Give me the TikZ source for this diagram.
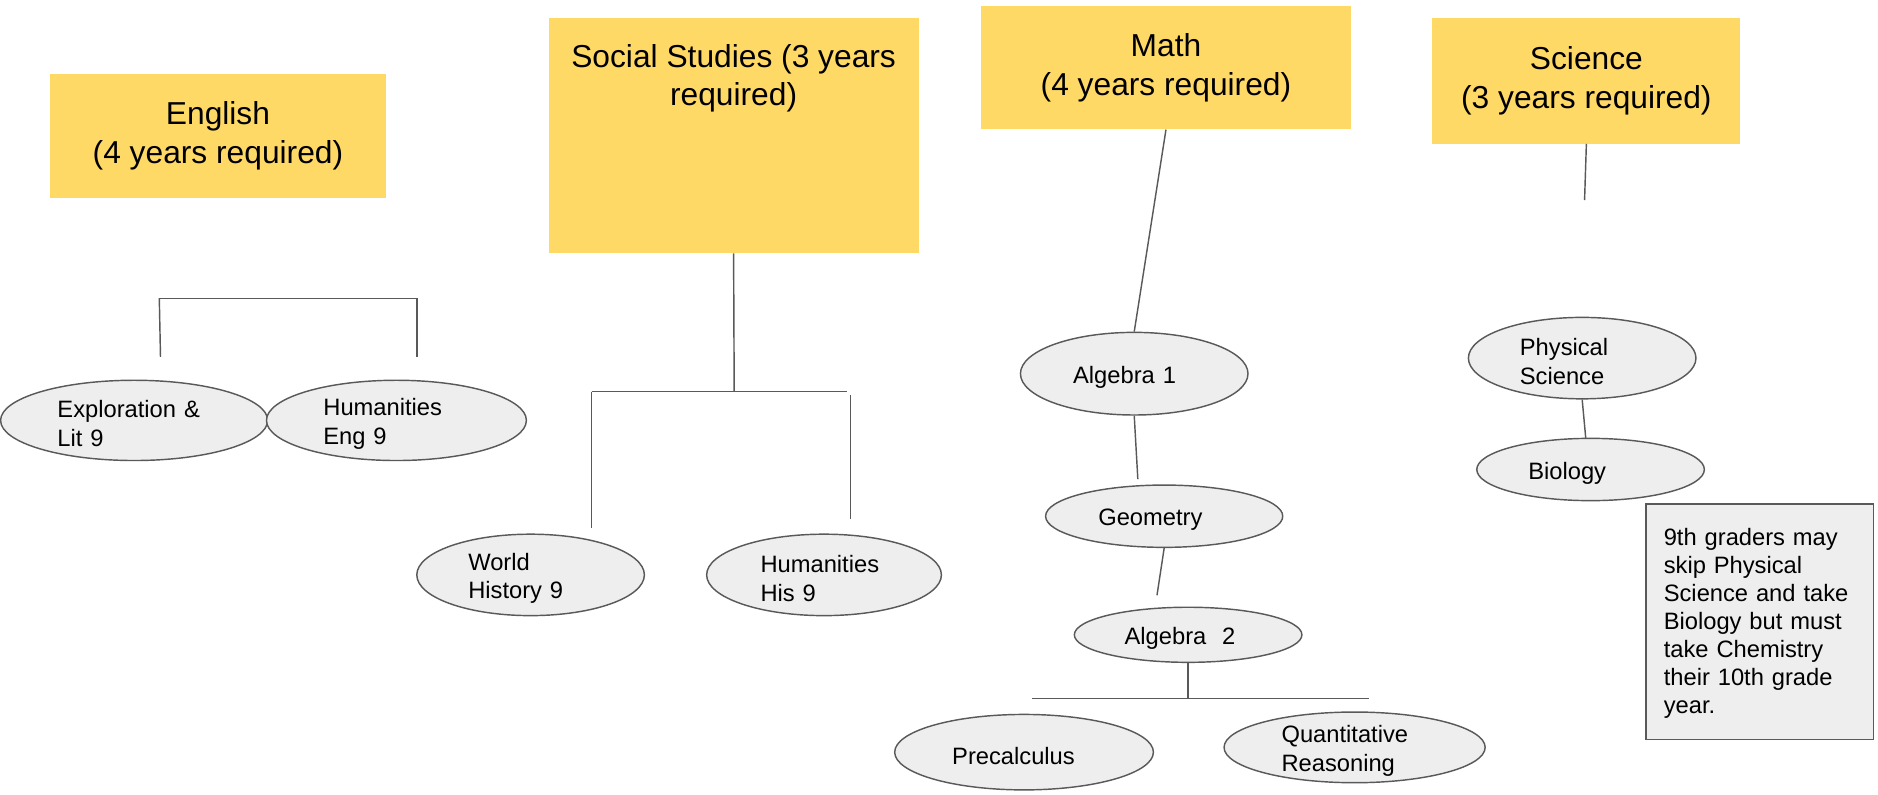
\documentclass[tikz,border=0pt]{standalone}
\usepackage{fontspec}
\setmainfont{Liberation Sans}
\usetikzlibrary{positioning,shapes.geometric}
\definecolor{deptyellow}{HTML}{FFD966}
\definecolor{coursegray}{HTML}{EEEEEE}
\definecolor{linegray}{HTML}{595959}

\begin{document}
\begin{tikzpicture}[%
x=1pt,y=-1pt,%
dept/.style={rectangle, fill=deptyellow, align=center, inner sep=0pt,%
  font=\fontsize{26.5}{32}\selectfont},%
course/.style={ellipse, draw=linegray, line width=1.2pt, fill=coursegray,%
  inner xsep=0pt, inner ysep=-5pt, text height=20pt, align=left,%
  font=\fontsize{19.8}{24}\selectfont},%
notebox/.style={rectangle, draw=linegray, line width=1.3pt, fill=coursegray,%
  align=left, inner xsep=15pt, inner ysep=20.5pt,%
  font=\fontsize{19.8}{23.4}\selectfont},%
link/.style={draw=linegray, line width=1.2pt},%
  ]
    \useasboundingbox (0,0) rectangle (1568,663);

    % departments
    \node[dept, minimum width=280pt, minimum height=103pt] (eng) at (182,113.5)
      {English\\(4 years required)};
    \node[dept, minimum width=309pt, anchor=north, inner ysep=22pt, text depth=101pt] (ss) at (612.5,15)
      {Social Studies (3 years\\required)};
    \node[dept, minimum width=309pt, minimum height=103pt] (math) at (973.5,56.5)
      {Math\\(4 years required)};
    \node[dept, minimum width=257pt, minimum height=105pt] (sci) at (1324.5,67.5)
      {Science\\(3 years required)};

    % english
    \node[course, minimum width=223pt, minimum height=67pt, text width=128pt] (expl) at (112,351)
      {Exploration \&\\Lit 9};
    \node[course, minimum width=217pt, minimum height=67pt, text width=122pt] (humeng) at (331,351)
      {Humanities\\Eng 9};

    % social studies
    \node[course, minimum width=190pt, minimum height=68pt, text width=104pt] (world) at (443,480)
      {World\\History 9};
    \node[course, minimum width=196pt, minimum height=68pt, text width=106pt] (humhis) at (688,480)
      {Humanities\\His 9};

    % math
    \node[course, minimum width=190pt, minimum height=69pt, text width=102pt] (alg1) at (947,312)
      {Algebra 1};
    \node[course, minimum width=198pt, minimum height=52pt, text width=110pt] (geo) at (972,431)
      {Geometry};
    \node[course, minimum width=190pt, minimum height=46pt, text width=106pt] (alg2) at (992,530)
      {Algebra~~2};
    \node[course, minimum width=216pt, minimum height=63pt, text width=120pt] (precalc) at (855,628)
      {Precalculus};
    \node[course, minimum width=218pt, minimum height=59pt, text width=122pt] (quant) at (1131,624)
      {Quantitative\\Reasoning};

    % science
    \node[course, minimum width=190pt, minimum height=68pt, text width=104pt] (physci) at (1321,299)
      {Physical\\Science};
    \node[course, minimum width=190pt, minimum height=52pt, text width=104pt] (bio) at (1328,392)
      {Biology};
    \node[notebox, text width=160pt, anchor=north west, text depth=141.5pt] (note) at (1373.5,420)
      {9th graders may\\skip Physical\\Science and take\\Biology but must\\take Chemistry\\their 10th grade\\year.};

    % loose ends of the connectors
    \coordinate (engTL) at (133,249);
    \coordinate (engTR) at (348,249);
    \coordinate (engBL) at (134,298);
    \coordinate (engBR) at (348,298);
    \coordinate (ssJ) at (613,327);
    \coordinate (ssL) at (494,327);
    \coordinate (ssR) at (707,327);
    \coordinate (ssBL) at (494,441);
    \coordinate (ssTR) at (710,330);
    \coordinate (ssBR) at (710,433);
    \coordinate (geoT) at (950,400);
    \coordinate (alg2T) at (966,497);
    \coordinate (mJ) at (992,583);
    \coordinate (mL) at (862,583);
    \coordinate (mR) at (1143,583);
    \coordinate (sciEnd) at (1323,167);
    \coordinate (bioT) at (1324,366);

    \draw[link] (engTL) -- (engTR);
    \draw[link] (engTL) -- (engBL);
    \draw[link] (engTR) -- (engBR);

    \draw[link] (ss.south) -- (ssJ);
    \draw[link] (ssL) -- (ssR);
    \draw[link] (ssL) -- (ssBL);
    \draw[link] (ssTR) -- (ssBR);

    \draw[link] (math.south) -- (alg1.north);
    \draw[link] (alg1.south) -- (geoT);
    \draw[link] (geo.south) -- (alg2T);
    \draw[link] (alg2.south) -- (mJ);
    \draw[link] (mL) -- (mR);

    \draw[link] (sci.south) -- (sciEnd);
    \draw[link] (physci.south) -- (bioT);
  \end{tikzpicture}
\end{document}
